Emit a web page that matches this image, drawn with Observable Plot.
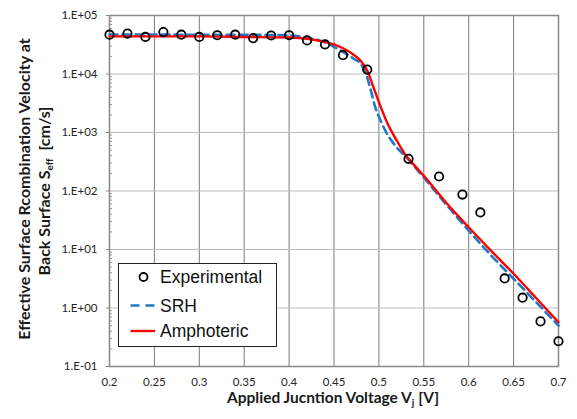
<!DOCTYPE html>
<html>
<head>
<meta charset="utf-8">
<script src="https://cdn.jsdelivr.net/npm/d3@7"></script>
<script src="https://cdn.jsdelivr.net/npm/@observablehq/plot@0.6"></script>
<style>
  html, body { margin: 0; padding: 0; background: white; }
  #wrap { position: relative; width: 577px; height: 419px; }
  #legend { position: absolute; left: 118px; top: 263px; }
</style>
</head>
<body>
<div id="wrap"></div>
<script>
// ---- Data ----
const expX = [0.20,0.22,0.24,0.26,0.28,0.30,0.32,0.34,0.36,0.38,0.40,0.42,0.44,0.46,0.487,0.533,0.567,0.593,0.613,0.64,0.66,0.68,0.70];
const expY = [4.7e4,4.9e4,4.3e4,5.2e4,4.7e4,4.3e4,4.6e4,4.7e4,4.1e4,4.55e4,4.6e4,3.75e4,3.2e4,2.1e4,1.19e4,355,177,87,43,3.2,1.5,0.59,0.27];

const srhX = [0.20,0.25,0.30,0.35,0.40,0.42,0.44,0.455,0.465,0.472,0.48,0.485,0.491,0.496,0.502,0.509,0.518,0.531,0.55,0.575,0.60,0.625,0.65,0.675,0.70];
const srhY = [4.73e4,4.73e4,4.68e4,4.68e4,4.57e4,4.17e4,3.47e4,2.63e4,2.14e4,1.82e4,1.48e4,1.07e4,5250,2690,1585,955,603,372,170,58.9,21.1,7.9,3.16,1.26,0.5];

const ampX = [0.20,0.25,0.30,0.35,0.40,0.42,0.44,0.45,0.46,0.47,0.48,0.487,0.495,0.50,0.51,0.52,0.53,0.54,0.55,0.575,0.60,0.625,0.65,0.675,0.70];
const ampY = [4.4e4,4.4e4,4.4e4,4.3e4,4.2e4,4.0e4,3.5e4,3.2e4,2.75e4,2.24e4,1.66e4,1.15e4,5370,3310,1380,724,407,269,182,63,24,9.5,3.85,1.48,0.57];

const xTicks = [0.2,0.25,0.3,0.35,0.4,0.45,0.5,0.55,0.6,0.65,0.7];
const yTicks = [0.1,1,10,100,1000,1e4,1e5];
const seriesNames = ["Experimental","SRH","Amphoteric"];

// ---- Build tables ----
const exp = expX.map((x,i) => ({x, y: expY[i]}));
const srh = srhX.map((x,i) => ({x, y: srhY[i]}));
const amp = ampX.map((x,i) => ({x, y: ampY[i]}));
const minor = [];
for (const d of yTicks.slice(0,-1)) for (let k = 2; k <= 9; k++) minor.push(d*k);

const yFmt = d => {
  const e = Math.round(Math.log10(d));
  return "1.E" + (e < 0 ? "-" : "+") + String(Math.abs(e)).padStart(2,"0");
};

const chart = Plot.plot({
  width: 577, height: 419,
  marginLeft: 109, marginRight: 19, marginTop: 15, marginBottom: 53,
  style: {fontFamily: "Lato, 'Open Sans', sans-serif", fontSize: "11.5px", color: "#262626", background: "white"},
  x: {domain: [0.2, 0.7]},
  y: {type: "log", domain: [0.1, 1e5]},
  marks: [
    Plot.gridX(xTicks.slice(1,-1), {stroke: "#7a7a7a", strokeOpacity: 1}),
    Plot.gridY(yTicks.slice(1,-1), {stroke: "#bcbcbc", strokeOpacity: 1}),
    Plot.axisX(xTicks, {tickSize: 0, tickPadding: 11, tickFormat: d => String(+d.toFixed(2)), label: null, fontSize: 11.5}),
    Plot.axisY(yTicks, {tickSize: 3, tickPadding: 9, tickFormat: yFmt, label: null, fontSize: 11.5, stroke: "#888"}),
    Plot.axisY(minor, {tickSize: 3, dx: 3, tickFormat: () => "", label: null, stroke: "#999"}),
    Plot.frame({stroke: "#898989", strokeWidth: 1.5}),
    Plot.line(srh, {x: "x", y: "y", stroke: "#1f78c8", strokeWidth: 2.6, strokeDasharray: "8,5", curve: "monotone-x"}),
    Plot.line(amp, {x: "x", y: "y", stroke: "#ff0000", strokeWidth: 2.4, curve: "monotone-x"}),
    Plot.dot(exp, {x: "x", y: "y", r: 4.2, stroke: "black", strokeWidth: 1.8, fill: "none"})
  ]
});

const wrap = document.getElementById("wrap");
wrap.appendChild(chart);

// Axis titles with subscripts
const svg = d3.select(chart);
const tf = "Lato, 'Open Sans', sans-serif";
const fs = 15.5;
const xt = svg.append("text").attr("x", 333).attr("y", 403.3).attr("text-anchor", "middle")
  .attr("font-family", tf).attr("font-size", fs).attr("font-weight", "bold").attr("fill", "#1a1a1a");
xt.append("tspan").text("Applied Jucntion Voltage V");
xt.append("tspan").attr("font-size", 10).attr("dy", 3).text("j");
xt.append("tspan").attr("dy", -3).text(" [V]");

svg.append("text").attr("transform", "translate(30,189) rotate(-90)").attr("text-anchor", "middle")
  .attr("font-family", tf).attr("font-size", 16).attr("font-weight", "bold").attr("fill", "#1a1a1a")
  .text("Effective Surface Rcombination Velocity at");
const y2 = svg.append("text").attr("transform", "translate(50,191) rotate(-90)").attr("text-anchor", "middle")
  .attr("font-family", tf).attr("font-size", 16).attr("font-weight", "bold").attr("fill", "#1a1a1a");
y2.append("tspan").text("Back Surface S");
y2.append("tspan").attr("font-size", 10).attr("dy", 3).text("eff");
y2.append("tspan").attr("dy", -3).text("  [cm/s]");

// Legend overlay
const lg = d3.select(wrap).append("svg").attr("id", "legend").attr("width", 159).attr("height", 84);
lg.append("rect").attr("x", 0.5).attr("y", 0.5).attr("width", 158).attr("height", 83).attr("fill", "white").attr("stroke", "#222");
const lf = "'Liberation Sans', Arial, sans-serif";
const rowsY = [14, 42.5, 68];
lg.append("circle").attr("cx", 25.5).attr("cy", rowsY[0]).attr("r", 4).attr("fill", "none").attr("stroke", "black").attr("stroke-width", 1.8);
lg.append("line").attr("x1", 12.5).attr("x2", 37).attr("y1", rowsY[1]).attr("y2", rowsY[1]).attr("stroke", "#1f78c8").attr("stroke-width", 2.6).attr("stroke-dasharray", "9,6");
lg.append("line").attr("x1", 12.5).attr("x2", 37).attr("y1", rowsY[2]).attr("y2", rowsY[2]).attr("stroke", "#ff0000").attr("stroke-width", 2.4);
seriesNames.forEach((s, i) => {
  lg.append("text").attr("x", 42).attr("y", rowsY[i] + 6.2).attr("font-family", lf).attr("font-size", 17.5).attr("fill", "#111").text(s);
});
</script>
</body>
</html>
